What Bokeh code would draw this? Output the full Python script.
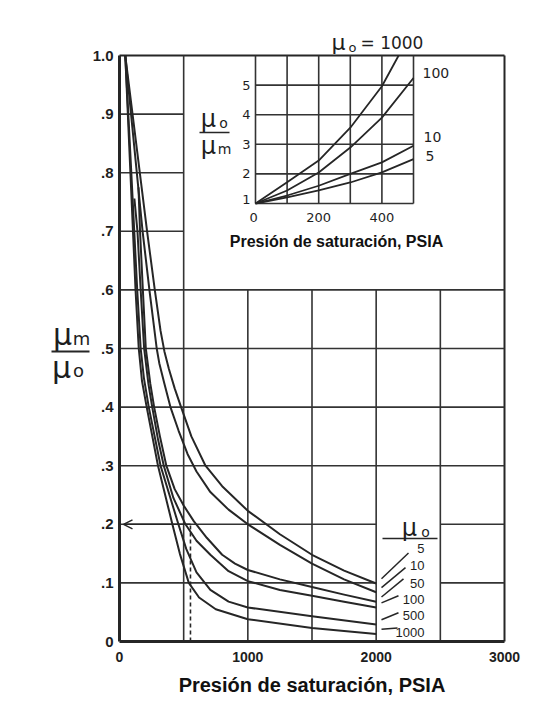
from bokeh.plotting import figure
from bokeh.models import Range1d, FixedTicker, Arrow, OpenHead
from bokeh.core.properties import value
from bokeh.embed import file_html
from bokeh.resources import INLINE

# ---------------- data ----------------
mu_labels = ["5", "10", "50", "100", "500", "1000"]

p_mu5 = [45, 215, 275, 320, 350, 385, 430, 480, 560, 670, 800, 1000, 1250, 1500, 1750, 2000]
r_mu5 = [1.0, 0.70, 0.60, 0.53, 0.495, 0.465, 0.432, 0.40, 0.35, 0.30, 0.265, 0.223, 0.183, 0.148, 0.121, 0.099]

p_mu10 = [45, 180, 233, 290, 310, 350, 397, 460, 530, 600, 708, 850, 1000, 1250, 1500, 1750, 2000]
r_mu10 = [1.0, 0.70, 0.60, 0.50, 0.475, 0.44, 0.40, 0.36, 0.32, 0.29, 0.255, 0.225, 0.200, 0.165, 0.133, 0.106, 0.084]

p_mu50 = [148, 160, 182, 205, 240, 270, 315, 365, 430, 500, 580, 680, 800, 900, 1000, 1250, 1500, 1750, 2000]
r_mu50 = [0.775, 0.70, 0.60, 0.50, 0.44, 0.40, 0.35, 0.30, 0.26, 0.232, 0.205, 0.177, 0.148, 0.133, 0.122, 0.106, 0.093, 0.080, 0.068]

p_mu100 = [116, 140, 165, 192, 225, 255, 300, 345, 420, 514, 600, 708, 850, 1000, 1250, 1500, 1750, 2000]
r_mu100 = [0.756, 0.70, 0.60, 0.50, 0.44, 0.40, 0.345, 0.30, 0.245, 0.200, 0.172, 0.148, 0.120, 0.103, 0.088, 0.078, 0.068, 0.058]

p_mu500 = [45, 92, 115, 138, 165, 190, 228, 320, 459, 520, 600, 708, 850, 1000, 1500, 2000]
r_mu500 = [1.0, 0.80, 0.70, 0.60, 0.50, 0.45, 0.40, 0.30, 0.20, 0.158, 0.118, 0.088, 0.068, 0.058, 0.043, 0.029]

p_mu1000 = [45, 85, 105, 125, 150, 175, 212, 300, 412, 470, 540, 620, 750, 1000, 1500, 2000]
r_mu1000 = [1.0, 0.80, 0.70, 0.60, 0.50, 0.445, 0.40, 0.30, 0.20, 0.15, 0.10, 0.075, 0.055, 0.038, 0.023, 0.013]

main_curves = [(p_mu5, r_mu5), (p_mu10, r_mu10), (p_mu50, r_mu50),
               (p_mu100, r_mu100), (p_mu500, r_mu500), (p_mu1000, r_mu1000)]

# inset: mu_o / mu_m versus saturation pressure (0-500 psia)
inset_labels = ["1000", "100", "10", "5"]
ip_1000 = [0, 100, 200, 300, 400, 453]
ir_1000 = [1.0, 1.72, 2.45, 3.56, 4.96, 6.0]
ip_100 = [0, 100, 200, 300, 400, 500]
ir_100 = [1.0, 1.44, 2.05, 2.89, 3.90, 5.24]
ip_10 = [0, 100, 200, 300, 400, 500]
ir_10 = [1.0, 1.27, 1.60, 2.00, 2.39, 2.95]
ip_5 = [0, 100, 200, 300, 400, 500]
ir_5 = [1.0, 1.21, 1.44, 1.71, 2.05, 2.50]
inset_curves = [(ip_1000, ir_1000), (ip_100, ir_100), (ip_10, ir_10), (ip_5, ir_5)]

# axes / ticks
x_ticks = [0, 1000, 2000, 3000]
y_ticks = [0, 0.1, 0.2, 0.3, 0.4, 0.5, 0.6, 0.7, 0.8, 0.9, 1.0]
y_tick_labels = ["0", ".1", ".2", ".3", ".4", ".5", ".6", ".7", ".8", ".9", "1.0"]
inset_x_ticks = [0, 200, 400]
inset_y_ticks = [1, 2, 3, 4, 5]
example_p = 553      # dashed reading line
example_r = 0.2

# ---------------- layout ----------------
W, H = 534, 710
FL, FR, FT, FB = 119, 504, 55, 641   # chart box in pixels
XMAX, YMAX = 3000, 1.0
INK = "#262626"
TXT = "#1e1e1e"


def dx(px):
    return (px - FL) * XMAX / (FR - FL)


def dy(py):
    return (FB - py) * YMAX / (FB - FT)


p = figure(width=W, height=H, x_range=Range1d(dx(0), dx(W)), y_range=Range1d(dy(H), dy(0)),
           output_backend="svg", toolbar_location=None, min_border=0)
p.xgrid.visible = False
p.ygrid.visible = False
p.background_fill_color = "white"
p.border_fill_color = "white"
p.outline_line_color = None

for ax in (p.xaxis[0], p.yaxis[0]):
    ax.fixed_location = 0
    ax.axis_line_color = INK
    ax.axis_line_width = 3
    ax.major_tick_line_color = None
    ax.minor_tick_line_color = None
    ax.major_tick_out = 0
    ax.major_tick_in = 0
    ax.minor_tick_out = 0
    ax.major_label_text_font = "Liberation Sans"
    ax.major_label_text_font_style = "bold"
    ax.major_label_text_color = TXT

p.xaxis.major_label_text_font_size = "14px"
p.yaxis.major_label_text_font_size = "15px"
p.xaxis.bounds = (0, XMAX)
p.yaxis.bounds = (0, YMAX)
p.xaxis.ticker = FixedTicker(ticks=x_ticks)
p.yaxis.ticker = FixedTicker(ticks=y_ticks)
p.yaxis.major_label_overrides = dict(zip(y_ticks, y_tick_labels))
p.xaxis.major_label_standoff = 10
p.yaxis.major_label_standoff = 6
p.xaxis.axis_label = "Presión de saturación, PSIA"
p.xaxis.axis_label_text_font = "Liberation Sans"
p.xaxis.axis_label_text_font_style = "bold"
p.xaxis.axis_label_text_font_size = "20px"
p.xaxis.axis_label_text_color = "#111111"
p.xaxis.axis_label_standoff = 9

# chart border (top and right)
p.segment(x0=[0, XMAX], y0=[YMAX, 0], x1=[XMAX, XMAX], y1=[YMAX, YMAX], line_color=INK, line_width=2)

# ---------------- main grid (partial, as in the scan) ----------------
gx0, gy0, gx1, gy1 = [], [], [], []
for xv in [500]:
    gx0.append(xv); gy0.append(0); gx1.append(xv); gy1.append(1.0)
for xv in [1000, 1500, 2000, 2500]:
    gx0.append(xv); gy0.append(0); gx1.append(xv); gy1.append(0.6)
for yv in [0.3, 0.4, 0.5, 0.6]:
    gx0.append(0); gy0.append(yv); gx1.append(3000); gy1.append(yv)
for yv in [0.1, 0.2]:
    gx0 += [0, 2500]; gy0 += [yv, yv]; gx1 += [2000, 3000]; gy1 += [yv, yv]
for yv in [0.7, 0.8, 0.9]:
    gx0.append(0); gy0.append(yv); gx1.append(500); gy1.append(yv)
p.segment(x0=gx0, y0=gy0, x1=gx1, y1=gy1, line_color="#333333", line_width=1.6)

# ---------------- main curves ----------------
for xs, ys in main_curves:
    p.line(xs, ys, line_color=INK, line_width=2, line_join="round")

# example reading: dashed vertical + arrow to the axis
p.segment(x0=[example_p], y0=[0], x1=[example_p], y1=[example_r],
          line_color=INK, line_width=1.6, line_dash="4 3")
p.add_layout(Arrow(end=OpenHead(size=9, line_width=1.5, line_color=INK),
                   x_start=example_p, y_start=example_r, x_end=dx(123), y_end=example_r,
                   line_color=INK, line_width=1.6))

# ---------------- legend of mu_o at the curve ends ----------------
label_py = [548, 565, 583, 599, 615, 632]
lead_end_px = [408, 405, 403, 398, 398, 397]
lead_rise = [0.044, 0.034, 0.031, 0.012, 0.012, 0.002]
ends = [c[1][-1] for c in main_curves]
p.text(x=[dx(424)] * 6, y=[dy(v) for v in label_py], text=mu_labels,
       text_font=value("Liberation Sans"), text_font_size="13px", text_align="right",
       text_baseline="middle", text_color=TXT)
p.segment(x0=[dx(381)] * 6, y0=[e + 0.008 for e in ends],
          x1=[dx(v) for v in lead_end_px], y1=[e + 0.008 + r for e, r in zip(ends, lead_rise)],
          line_color=INK, line_width=1.5)
p.segment(x0=[dx(382)], y0=[dy(538)], x1=[dx(437)], y1=[dy(538)], line_color=INK, line_width=1.5)


def txt(t, px, py, fs, font="DejaVu Sans", align="center", style="normal", **kw):
    p.text(x=[dx(px)], y=[dy(py)], text=[t], text_font=value(font), text_font_size=fs,
           text_align=align, text_baseline="middle", text_font_style=style, text_color=TXT, **kw)


txt("μ", 409, 527, "24px")
txt("o", 425, 531, "14px")

# ---------------- inset ----------------
IL, IR, IT, IB = 255, 413, FT, 203   # inset box in pixels
ixs = 500 / (IR - IL)
iys = 5 / (IB - IT)
p.extra_x_ranges = {"ix": Range1d(0 - IL * ixs, 500 + (W - IR) * ixs)}
p.extra_y_ranges = {"iy": Range1d(1 - (H - IB) * iys, 6 + IT * iys)}
ir = dict(x_range_name="ix", y_range_name="iy")

ix0, iy0, ix1, iy1 = [], [], [], []
for xv in [0, 100, 200, 300, 400, 500]:
    ix0.append(xv); iy0.append(1); ix1.append(xv); iy1.append(6)
for yv in [1, 2, 3, 4, 5]:
    ix0.append(0); iy0.append(yv); ix1.append(500); iy1.append(yv)
p.segment(x0=ix0, y0=iy0, x1=ix1, y1=iy1, line_color="#333333", line_width=1.6, **ir)
for xs, ys in inset_curves:
    p.line(xs, ys, line_color=INK, line_width=1.8, **ir)

p.text(x=[-(IL - 250) * ixs] * 5, y=[1.12, 2, 3, 4, 5], text=[str(v) for v in inset_y_ticks],
       text_font=value("DejaVu Sans"), text_font_size="13px", text_align="right",
       text_baseline="middle", text_color=TXT, **ir)
p.text(x=[-6, 200, 400], y=[1 - 14 * iys] * 3, text=[str(v) for v in inset_x_ticks],
       text_font=value("DejaVu Sans"), text_font_size="13px", text_align="center",
       text_baseline="middle", text_color=TXT, **ir)
p.text(x=[(336 - IL) * ixs], y=[1 - (241 - IB) * iys], text=["Presión de saturación, PSIA"],
       text_font=value("Liberation Sans"), text_font_size="16px", text_font_style="bold",
       text_align="center", text_baseline="middle", text_color="#111111", **ir)
# curve names at the inset's right
p.text(x=[(422 - IL) * ixs, (423 - IL) * ixs, (425 - IL) * ixs],
       y=[1 + (IB - 72) * iys, 1 + (IB - 136) * iys, 1 + (IB - 155) * iys],
       text=inset_labels[1:], text_font=value("DejaVu Sans"), text_font_size="14px",
       text_align="left", text_baseline="middle", text_color=TXT, **ir)
# "mu_o = 1000" above the inset
txt("μ", 338, 42, "22px")
txt("o", 352, 47, "13px")
txt("= " + inset_labels[0], 360, 42, "17px", align="left")
# inset y label  mu_o / mu_m
txt("μ", 208, 118, "24px")
txt("o", 223, 122, "14px")
txt("μ", 208, 145, "24px")
txt("m", 224, 148, "14px")
p.segment(x0=[dx(199)], y0=[dy(132)], x1=[dx(229)], y1=[dy(132)], line_color=INK, line_width=1.5)

# main y label  mu_m / mu_o
txt("μ", 62, 334, "30px")
txt("m", 81, 338, "18px")
txt("μ", 61, 367, "30px")
txt("o", 78, 370, "18px")
p.segment(x0=[dx(51)], y0=[dy(351)], x1=[dx(89)], y1=[dy(351)], line_color=INK, line_width=1.8)

open("out.html", "w").write(file_html(p, INLINE))
